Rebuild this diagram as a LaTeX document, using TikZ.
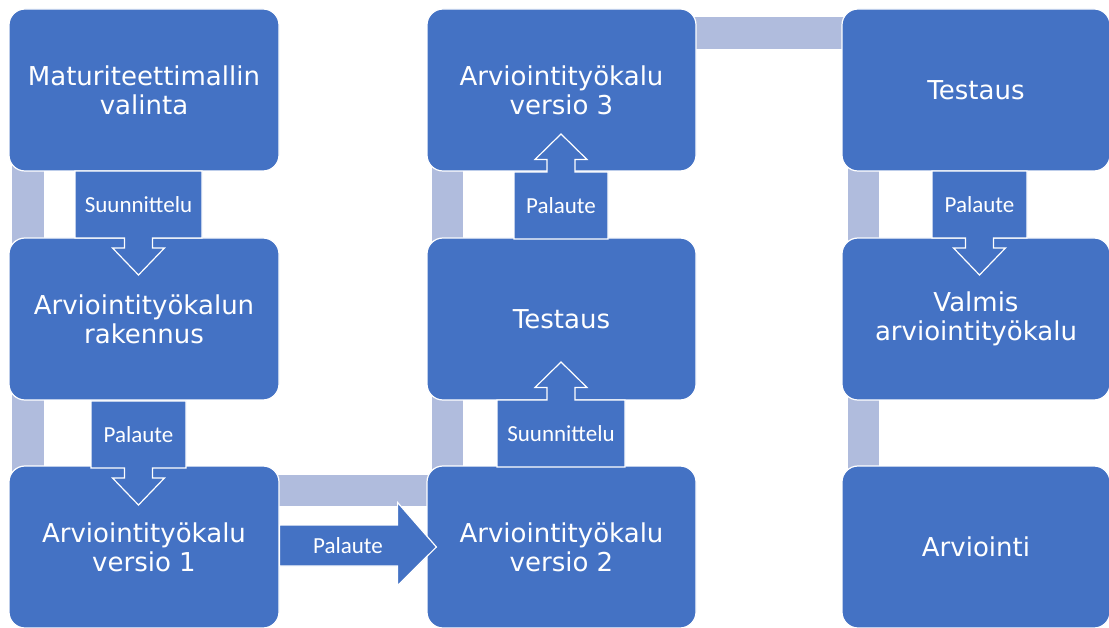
\documentclass[tikz,border=0pt]{standalone}
\usepackage{fontspec}
\setmainfont{DejaVu Sans}
\newfontfamily\callfont{Carlito}
\usetikzlibrary{calc,backgrounds}
\definecolor{boxblue}{RGB}{68,114,196}
\definecolor{barblue}{RGB}{176,188,221}
\tikzset{
  stage/.style={draw=white, line width=1.2pt, fill=boxblue, rounded corners=16pt,
    text=white, align=center, inner sep=0pt,
    font=\fontsize{26}{29}\selectfont},
  bar/.style={fill=barblue, draw=white, line width=0.8pt},
  callshape/.style={fill=boxblue, draw=white, line width=1.2pt, line join=miter},
  calltext/.style={text=white, inner sep=0pt, font=\callfont\fontsize{23}{24}\selectfont}
}
% down callout: #1 name, #2 centre, #3 half width, #4 text
\newcommand\calldown[4]{%
  \begin{scope}[shift={(#2)}]
    \filldraw[callshape] (-#3,-33.5) -- (#3,-33.5) -- (#3,33.5) -- (14,33.5) -- (14,43.5)
      -- (26,43.5) -- (0,70.5) -- (-26,43.5) -- (-14,43.5) -- (-14,33.5) -- (-#3,33.5) -- cycle;
  \end{scope}
  \node[calltext] (#1) at (#2) {#4};
}
\newcommand\callup[4]{%
  \begin{scope}[shift={(#2)}]
    \filldraw[callshape] (-#3,33.5) -- (#3,33.5) -- (#3,-33.5) -- (14,-33.5) -- (14,-46)
      -- (26,-46) -- (0,-71.5) -- (-26,-46) -- (-14,-46) -- (-14,-33.5) -- (-#3,-33.5) -- cycle;
  \end{scope}
  \node[calltext] (#1) at (#2) {#4};
}
\begin{document}
\begin{tikzpicture}[x=1pt,y=-1pt]
\useasboundingbox (0,0) rectangle (1109,628);
\clip (0,0) rectangle (1109,628);
\path
  (144,90)    node[stage, minimum width=270pt, minimum height=162pt] (a1) {Maturiteettimallin\\valinta}
  (144,319)   node[stage, minimum width=270pt, minimum height=162pt] (a2) {Arviointityökalun\\rakennus}
  (144,547)   node[stage, minimum width=270pt, minimum height=162pt] (a3) {Arviointityökalu\\versio 1}
  (561.5,547) node[stage, minimum width=269pt, minimum height=162pt] (b3) {Arviointityökalu\\versio 2}
  (561.5,319) node[stage, minimum width=269pt, minimum height=162pt] (b2) {Testaus}
  (561.5,90)  node[stage, minimum width=269pt, minimum height=162pt] (b1) {Arviointityökalu\\versio 3}
  (976,90)    node[stage, minimum width=268pt, minimum height=162pt] (c1) {Testaus}
  (976,319)   node[stage, minimum width=268pt, minimum height=162pt] (c2) {Valmis\\arviointityökalu}
  (976,547)   node[stage, minimum width=268pt, minimum height=162pt] (c3) {Arviointi};
% connector bars behind boxes
\begin{pgfonlayer}{background}
\filldraw[bar] ($(a1.south west)+(3,-20)$) rectangle ($(a2.north west)+(36,20)$);
\filldraw[bar] ($(a2.south west)+(3,-20)$) rectangle ($(a3.north west)+(36,20)$);
\filldraw[bar] ($(a3.north east)+(-20,9)$) rectangle ($(b3.north west)+(20,41)$);
\filldraw[bar] ($(b3.north west)+(5,20)$) rectangle ($(b2.south west)+(37,-20)$);
\filldraw[bar] ($(b2.north west)+(5,20)$) rectangle ($(b1.south west)+(37,-20)$);
\filldraw[bar] ($(b1.north east)+(-20,8)$) rectangle ($(c1.north west)+(20,41)$);
\filldraw[bar] ($(c1.south west)+(6,-20)$) rectangle ($(c2.north west)+(38,20)$);
\filldraw[bar] ($(c2.south west)+(6,-20)$) rectangle ($(c3.north west)+(38,20)$);
\end{pgfonlayer}
% callouts
\calldown{k1}{138.5,204.5}{63.5}{Suunnittelu}
\calldown{k2}{138.5,434.5}{47.5}{Palaute}
\callup{k4}{561,433.5}{64}{Suunnittelu}
\callup{k5}{561,205.5}{47}{Palaute}
\calldown{k6}{979.5,204.5}{47.5}{Palaute}
% horizontal arrow
\coordinate (h0) at ($(a3.east)+(0,-1.5)$);
\filldraw[callshape] ($(h0)+(0,-20.5)$) -- ($(h0)+(118,-20.5)$) -- ($(h0)+(118,-43)$)
  -- ($(b3.west)+(10,0)$) -- ($(h0)+(118,40)$) -- ($(h0)+(118,20.5)$) -- ($(h0)+(0,20.5)$) -- cycle;
\node[calltext] (k3) at (348,546) {Palaute};
\end{tikzpicture}
\end{document}
